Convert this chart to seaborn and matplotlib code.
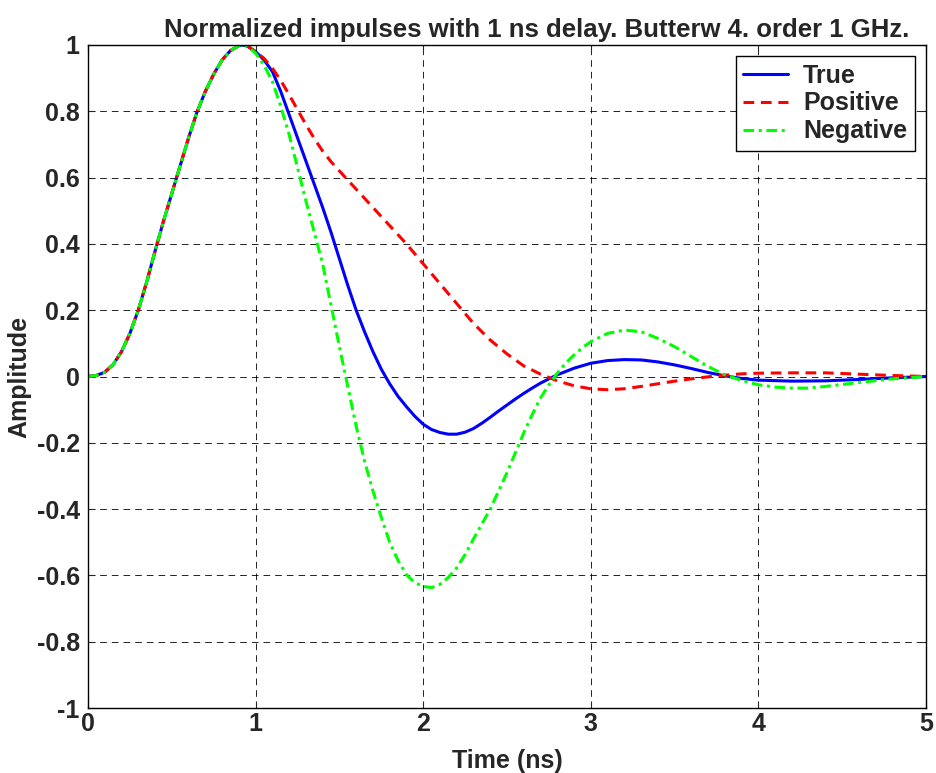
import numpy as np
import pandas as pd
import matplotlib
matplotlib.use("Agg")
import matplotlib.pyplot as plt
import seaborn as sns

# Shared rising edge (ns, amplitude)
rise_t = [0.0, 0.05, 0.1, 0.15, 0.2, 0.25, 0.3, 0.35, 0.4, 0.45, 0.5, 0.55, 0.6,
          0.65, 0.7, 0.75, 0.8, 0.85, 0.9, 0.92, 0.95]
rise_v = [0.0, 0.003, 0.013, 0.036, 0.075, 0.13, 0.2, 0.285, 0.378, 0.468, 0.552,
          0.636, 0.72, 0.797, 0.86, 0.912, 0.955, 0.983, 0.998, 1.0, 0.997]

true_t = [1.0, 1.05, 1.1, 1.15, 1.2, 1.25, 1.3, 1.35, 1.4, 1.45, 1.5, 1.55, 1.6, 1.65,
          1.7, 1.75, 1.8, 1.85, 1.9, 1.95, 2.0, 2.05, 2.1, 2.15, 2.2, 2.25, 2.3, 2.35,
          2.4, 2.45, 2.5, 2.55, 2.6, 2.65, 2.7, 2.75, 2.8, 2.9, 3.0, 3.1, 3.2, 3.3,
          3.4, 3.5, 3.6, 3.7, 3.8, 3.9, 4.0, 4.2, 4.4, 4.6, 4.8, 5.0]
true_v = [0.98, 0.955, 0.92, 0.86, 0.79, 0.72, 0.65, 0.58, 0.51, 0.435, 0.355, 0.275,
          0.2, 0.135, 0.075, 0.022, -0.022, -0.06, -0.091, -0.12, -0.144, -0.16, -0.169,
          -0.174, -0.174, -0.168, -0.157, -0.141, -0.123, -0.104, -0.086, -0.068, -0.051,
          -0.035, -0.02, -0.007, 0.005, 0.025, 0.04, 0.048, 0.051, 0.05, 0.044, 0.035,
          0.024, 0.012, 0.002, -0.006, -0.011, -0.014, -0.013, -0.009, -0.004, 0.0]

pos_t = [1.0, 1.05, 1.1, 1.15, 1.2, 1.25, 1.3, 1.35, 1.4, 1.45, 1.5, 1.6, 1.7, 1.8,
         1.9, 2.0, 2.1, 2.2, 2.3, 2.4, 2.5, 2.6, 2.7, 2.8, 2.9, 3.0, 3.1, 3.2, 3.3,
         3.4, 3.5, 3.6, 3.7, 3.8, 3.9, 4.0, 4.2, 4.4, 4.6, 4.8, 5.0]
pos_v = [0.98, 0.96, 0.93, 0.893, 0.85, 0.805, 0.76, 0.718, 0.68, 0.648, 0.62, 0.565,
         0.51, 0.455, 0.40, 0.34, 0.28, 0.22, 0.16, 0.11, 0.068, 0.032, 0.007, -0.013,
         -0.028, -0.037, -0.04, -0.037, -0.03, -0.022, -0.014, -0.007, -0.001, 0.004,
         0.008, 0.01, 0.011, 0.011, 0.007, 0.003, 0.0]

neg_t = [1.0, 1.05, 1.1, 1.15, 1.2, 1.25, 1.3, 1.35, 1.4, 1.45, 1.5, 1.55, 1.6, 1.65,
         1.7, 1.75, 1.8, 1.85, 1.9, 1.95, 2.0, 2.05, 2.1, 2.15, 2.2, 2.25, 2.3, 2.35,
         2.4, 2.45, 2.5, 2.55, 2.6, 2.65, 2.7, 2.75, 2.8, 2.85, 2.9, 2.95, 3.0, 3.1,
         3.2, 3.3, 3.4, 3.5, 3.6, 3.7, 3.8, 3.9, 4.0, 4.1, 4.2, 4.3, 4.4, 4.6, 4.8, 5.0]
neg_v = [0.975, 0.94, 0.89, 0.815, 0.73, 0.63, 0.53, 0.435, 0.34, 0.215, 0.09, -0.03,
         -0.15, -0.255, -0.345, -0.425, -0.5, -0.555, -0.598, -0.622, -0.633, -0.637,
         -0.627, -0.606, -0.577, -0.537, -0.49, -0.445, -0.4, -0.345, -0.29, -0.23,
         -0.17, -0.115, -0.065, -0.025, 0.01, 0.04, 0.065, 0.087, 0.105, 0.13, 0.14,
         0.135, 0.115, 0.09, 0.06, 0.03, 0.005, -0.012, -0.025, -0.032, -0.035, -0.035,
         -0.03, -0.018, -0.007, 0.0]

series_names = ["True", "Positive", "Negative"]
x_ticks = [0, 1, 2, 3, 4, 5]
y_ticks = [1, 0.8, 0.6, 0.4, 0.2, 0, -0.2, -0.4, -0.6, -0.8, -1]
y_tick_labels = ["1", "0.8", "0.6", "0.4", "0.2", "0", "-0.2", "-0.4", "-0.6", "-0.8", "-1"]

frames = []
for name, tt, vv in zip(series_names, [true_t, pos_t, neg_t], [true_v, pos_v, neg_v]):
    frames.append(pd.DataFrame({"t": rise_t + tt, "v": rise_v + vv, "s": name}))
df = pd.concat(frames, ignore_index=True)

sns.set_style("white")
plt.rcParams["font.family"] = ["Liberation Sans", "DejaVu Sans"]
plt.rcParams["font.weight"] = "bold"

FS = 18
fig = plt.figure(figsize=(9.37, 7.73), dpi=100)
ax = fig.add_axes([88 / 937, 1 - 708 / 773, (926 - 88) / 937, (708 - 45) / 773])

palette = {"True": "#0000ff", "Positive": "#ff0000", "Negative": "#00ff00"}
dashes = {"True": "", "Positive": (3.5, 2.2), "Negative": (3.5, 1.5, 1, 1.5)}
sns.lineplot(data=df, x="t", y="v", hue="s", style="s", palette=palette,
             dashes=dashes, sort=False, estimator=None, linewidth=2.2, ax=ax,
             hue_order=series_names, style_order=series_names)

ax.set_xlim(0, 5)
ax.set_ylim(-1, 1)
ax.set_xticks(x_ticks)
ax.set_xticklabels([str(v) for v in x_ticks], fontsize=FS, fontweight="bold")
ax.set_yticks(y_ticks)
ax.set_yticklabels(y_tick_labels, fontsize=FS, fontweight="bold")
ax.grid(True, color="black", linestyle=(0, (8, 6)), linewidth=0.6)
ax.tick_params(direction="in", length=5, width=0.8, top=True, right=True,
               bottom=True, left=True)
ax.tick_params(axis="y", pad=6)
ax.tick_params(axis="x", pad=3)
for sp in ax.spines.values():
    sp.set_visible(True)
    sp.set_color("black")
    sp.set_linewidth(1.0)

ax.set_xlabel("Time (ns)", fontsize=FS, fontweight="bold", labelpad=9)
ax.set_ylabel("Amplitude", fontsize=FS, fontweight="bold", labelpad=4)
ax.set_title("Normalized impulses with 1 ns delay. Butterw 4. order 1 GHz.",
             fontsize=18.5, fontweight="bold", pad=6, x=0.536)

handles, labels = ax.get_legend_handles_labels()
leg = ax.legend(handles, labels, loc="upper right", fontsize=FS, frameon=True,
                fancybox=False, edgecolor="black", framealpha=1,
                borderaxespad=0.45, handlelength=1.8, handletextpad=0.6,
                labelspacing=0.15, borderpad=0.3)
leg.get_frame().set_linewidth(1.0)
for txt in leg.get_texts():
    txt.set_fontweight("bold")

fig.savefig("out.png", dpi=100)
